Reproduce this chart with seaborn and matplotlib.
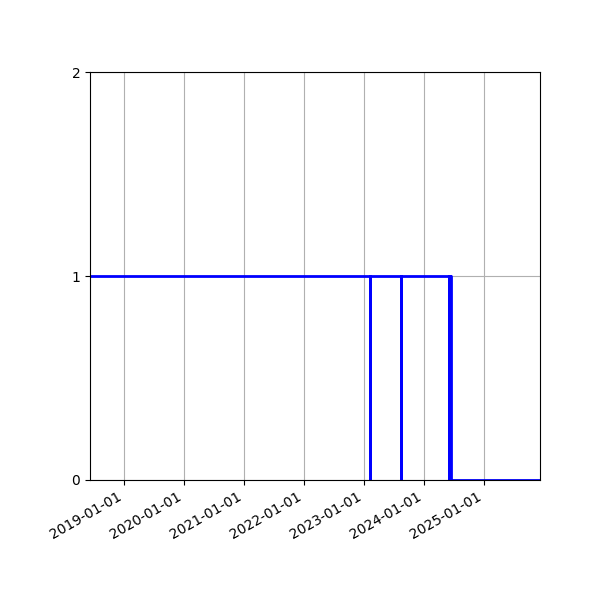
import pandas as pd
import matplotlib
matplotlib.use("Agg")
import matplotlib.pyplot as plt
import matplotlib.dates as mdates
import seaborn as sns

# Status change points (value holds until the next date)
dates = ["2018-06-08", "2023-02-06", "2023-02-07", "2023-08-14", "2023-08-15",
         "2024-06-01", "2024-06-03", "2024-06-08", "2024-06-10", "2024-06-14",
         "2025-12-07"]
status = [1, 0, 1, 0, 1, 0, 1, 0, 1, 0, 0]

df = pd.DataFrame({"date": pd.to_datetime(dates), "status": status})

fig, ax = plt.subplots(figsize=(6, 6), dpi=100)
sns.lineplot(x="date", y="status", data=df, ax=ax, color="blue",
             linewidth=2, drawstyle="steps-post")

ax.set_xlim(df["date"].iloc[0], df["date"].iloc[-1])
ax.set_ylim(0, 2)
ax.set_yticks([0, 1, 2])
ax.xaxis.set_major_locator(mdates.YearLocator())
ax.xaxis.set_major_formatter(mdates.DateFormatter("%Y-%m-%d"))
ax.set_xlabel("")
ax.set_ylabel("")
ax.grid(True)
fig.autofmt_xdate()
fig.subplots_adjust(left=0.15, right=0.9, top=0.88, bottom=0.2)

plt.savefig("out.png")
